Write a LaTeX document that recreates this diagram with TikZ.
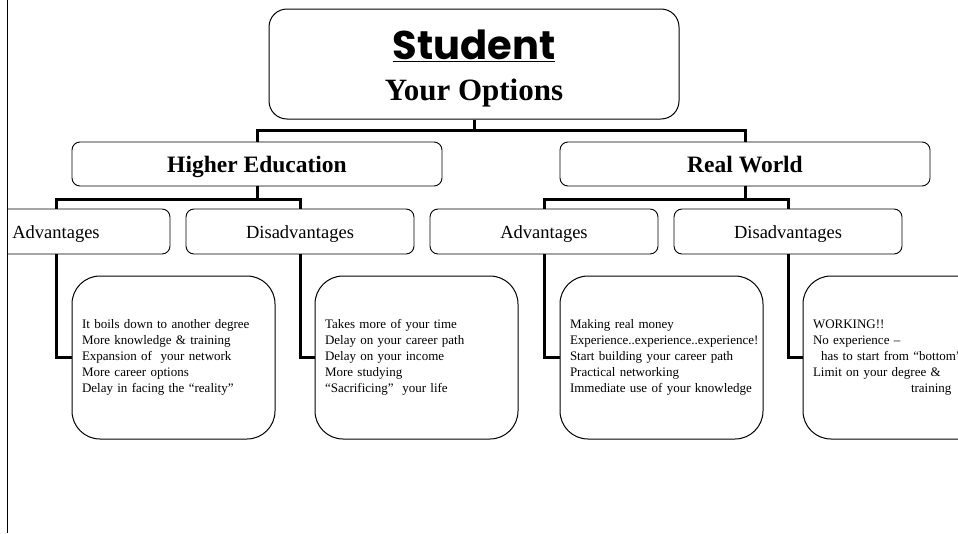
\documentclass[tikz,border=0pt]{standalone}
\usepackage{fontspec}
\setmainfont{Liberation Serif}
\newfontfamily\comicfont{Poppins}
\begin{document}
\begin{tikzpicture}[x=1pt,y=-1pt]
\tikzset{
 topbox/.style={draw, line width=1pt, rounded corners=18pt, minimum width=410pt, minimum height=110pt, inner sep=0pt},
 midbox/.style={draw, line width=0.9pt, rounded corners=8pt, minimum width=370pt, minimum height=44pt, inner sep=0pt, text height=17pt, text depth=0pt, font=\fontsize{23.5}{28}\selectfont\bfseries},
 subbox/.style={draw, line width=0.9pt, rounded corners=8pt, minimum width=228pt, minimum height=45pt, inner sep=0pt, text height=13pt, text depth=0pt, font=\fontsize{18.5}{22}\selectfont},
 detbox/.style={draw, line width=1pt, rounded corners=28pt, minimum width=203pt, minimum height=163pt, text width=183pt, inner xsep=10pt, inner ysep=0pt, align=left, font=\fontsize{13}{16}\selectfont},
 link/.style={line width=3pt},
 border/.style={line width=1pt}
}
\useasboundingbox (0,0) rectangle (958,533);
\draw[border] (7.5,0) -- (7.5,533);
\clip (7.5,0) rectangle (958,533);
% top
\node[topbox] (st) at (474,64) {};
\node[anchor=base, inner sep=0pt, font=\comicfont\bfseries\fontsize{40}{40}\selectfont] (stA) at (474,59) {\underline{Student}};
\node[anchor=base, inner sep=0pt, font=\bfseries\fontsize{31}{31}\selectfont] (stB) at (474,100) {Your Options};
% level 2
\node[midbox] (he) at (257,164) {Higher Education};
\node[midbox] (rw) at (745,164) {Real World};
% level 3
\node[subbox] (ha) at (56,231.5) {Advantages};
\node[subbox] (hd) at (300,231.5) {Disadvantages};
\node[subbox] (ra) at (544,231.5) {Advantages};
\node[subbox] (rd) at (788,231.5) {Disadvantages};
% details
\node[detbox] (hat) at (173.5,357.5) {It boils down to another degree\\More knowledge \& training\\Expansion of\ \ your network\\More career options\\Delay in facing the “reality”};
\node[detbox] (hdt) at (416.5,357.5) {Takes more of your time\\Delay on your career path\\Delay on your income\\More studying\\“Sacrificing”\ \ your life};
\node[detbox] (rat) at (661.5,357.5) {Making real money\\Experience..experience..experience!\\Start building your career path\\Practical networking\\Immediate use of your knowledge};
\node[detbox] (rdt) at (904.5,357.5) {WORKING!!\\No experience –\\\hspace*{8pt}has to start from “bottom”\\Limit on your degree \&\\\hspace*{98pt}training};
% connectors
\draw[link] (st.south) -- ++(0,11) -| (he.north);
\draw[link] (st.south) -- ++(0,11) -| (rw.north);
\draw[link] (he.south) -- ++(0,13) -| (ha.north);
\draw[link] (he.south) -- ++(0,13) -| (hd.north);
\draw[link] (rw.south) -- ++(0,13) -| (ra.north);
\draw[link] (rw.south) -- ++(0,13) -| (rd.north);
\draw[link] (ha.south) |- (hat.west);
\draw[link] (hd.south) |- (hdt.west);
\draw[link] (ra.south) |- (rat.west);
\draw[link] (rd.south) |- (rdt.west);
\end{tikzpicture}
\end{document}
